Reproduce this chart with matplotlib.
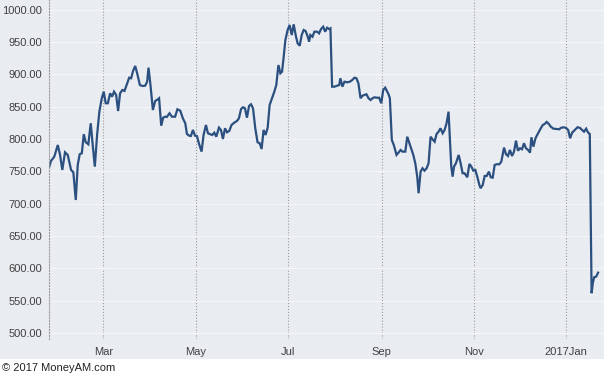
import numpy as np
import pandas as pd
import matplotlib
matplotlib.use("Agg")
import matplotlib.pyplot as plt
import matplotlib.dates as mdates
from matplotlib.patches import Rectangle

plt.rcParams["font.family"] = ["Liberation Sans", "DejaVu Sans"]

# days after 2016-01-25
day_offsets = [
    0, 1.3, 3.5, 5.8, 7.3, 8.8, 10.6, 12.4, 14.6, 16.1, 17.7, 19.0, 20.3, 21.7,
    23.0, 24.3, 26.0, 27.6, 28.9, 30.3, 31.8, 33.3, 34.9, 36.2, 37.5, 38.9,
    40.4, 41.7, 43.0, 44.4, 45.7, 47.0, 48.5, 49.9, 51.5, 53.0, 54.3, 55.6,
    57.0, 58.3, 60.1, 61.8, 63.6, 64.9, 65.8, 67.1, 68.7, 70.2, 72.0, 72.8,
    74.2, 75.5, 76.8, 77.9, 79.7, 81.3, 83.4, 84.9, 86.8, 88.5, 90.1, 91.2,
    92.7, 93.8, 95.2, 96.5, 97.8, 99.1, 100.9, 102.2, 103.8, 105.1, 106.6,
    107.9, 109.3, 110.6, 112.4, 113.7, 115.0, 116.4, 117.7, 119.2, 120.7,
    122.5, 124.3, 125.6, 127.0, 128.3, 129.6, 130.9, 132.3, 133.6, 134.9,
    136.4, 137.9, 139.3, 140.6, 141.9, 143.2, 144.6, 145.9, 147.5, 149.0,
    150.3, 151.7, 153.0, 154.1, 155.2, 156.3, 157.8, 159.1, 160.5, 161.8,
    163.1, 164.4, 165.8, 167.1, 168.4, 169.7, 171.1, 172.0, 172.8, 174.2,
    175.5, 177.3, 178.6, 179.9, 181.3, 182.6, 183.9, 185.2, 186.1, 187.2,
    188.7, 190.5, 191.9, 192.7, 194.0, 195.4, 197.2, 198.9, 200.5, 202.0,
    203.3, 204.6, 206.0, 207.3, 208.6, 209.9, 211.3, 212.6, 213.9, 215.2,
    216.6, 218.3, 219.7, 221.0, 222.3, 223.7, 224.7, 225.4, 226.7, 228.0,
    229.8, 231.1, 232.5, 233.8, 235.6, 236.9, 238.2, 239.5, 240.9, 242.2,
    243.5, 244.4, 245.7, 247.0, 248.3, 249.7, 251.0, 252.3, 253.6, 255.0,
    256.3, 257.6, 258.9, 260.3, 261.6, 262.9, 264.2, 265.1, 266.0, 266.9,
    267.8, 269.1, 270.9, 272.2, 273.5, 274.8, 276.6, 278.0, 279.3, 280.6,
    281.9, 283.2, 284.6, 285.4, 286.8, 288.1, 289.4, 290.9, 292.1, 293.4,
    294.7, 296.0, 297.8, 299.1, 300.9, 302.2, 303.5, 304.8, 306.2, 307.5,
    308.8, 310.1, 311.5, 312.8, 314.1, 315.4, 316.8, 318.1, 319.0, 320.3,
    321.7, 323.4, 325.2, 326.5, 327.8, 329.1, 330.5, 331.8, 333.6, 335.8,
    337.5, 338.4, 340.2, 341.9, 343.3, 344.6, 345.9, 347.7, 349.5, 351.2,
    352.5, 353.8, 355.2, 356.5, 357.6, 358.8, 359.6, 360.5, 361.8, 363.1,
]

prices = [
    755.9, 766.2, 772.8, 790.9, 775.5, 752.3, 779.6, 775.5, 752.3, 748.7,
    705.9, 760.0, 776.6, 778.1, 807.5, 795.1, 792.0, 824.5, 790.9, 757.4,
    806.4, 842.4, 863.1, 873.3, 855.4, 855.4, 870.8, 865.5, 873.3, 868.2,
    843.4, 870.8, 875.9, 874.4, 884.7, 894.9, 894.0, 905.3, 913.0, 901.7,
    883.6, 882.1, 882.5, 888.7, 910.4, 883.6, 845.0, 858.9, 861.5, 863.1,
    820.7, 833.1, 834.6, 834.2, 839.9, 834.6, 834.6, 846.1, 843.9, 832.2,
    824.5, 807.9, 805.3, 804.8, 814.1, 805.3, 804.8, 793.6, 780.6, 806.4,
    821.8, 809.0, 807.5, 806.4, 809.9, 803.7, 817.7, 814.1, 800.2, 816.7,
    810.5, 812.6, 821.8, 825.4, 828.0, 832.2, 846.5, 849.2, 847.6, 833.1,
    851.2, 853.8, 847.6, 816.7, 795.1, 793.6, 784.7, 814.1, 806.4, 817.7,
    852.7, 863.1, 873.3, 883.6, 914.5, 901.7, 904.2, 927.3, 953.1, 968.6,
    976.3, 960.9, 977.4, 960.9, 948.0, 944.3, 960.9, 968.6, 967.0, 958.2,
    950.5, 960.9, 958.2, 966.0, 966.0, 963.5, 970.1, 973.7, 966.0, 972.2,
    970.1, 971.2, 881.0, 881.0, 882.5, 883.6, 894.0, 881.0, 888.7, 887.8,
    888.7, 891.3, 894.9, 894.0, 886.3, 863.1, 867.1, 868.2, 869.3, 863.1,
    860.4, 863.1, 864.6, 864.0, 864.0, 855.4, 875.9, 879.5, 873.3, 868.2,
    863.1, 798.6, 790.9, 775.5, 779.0, 783.2, 780.6, 780.6, 803.7, 794.5,
    785.8, 775.5, 762.7, 741.9, 716.3, 749.7, 754.9, 751.2, 754.9, 762.7,
    803.7, 799.7, 796.0, 807.9, 811.5, 816.7, 809.0, 814.1, 824.5, 842.4,
    798.6, 757.4, 741.9, 757.4, 762.7, 775.5, 762.7, 747.2, 747.2, 741.0,
    761.6, 757.4, 751.2, 752.3, 741.9, 729.1, 724.0, 729.1, 743.0, 743.0,
    749.7, 741.0, 740.4, 760.0, 761.1, 761.1, 765.1, 786.8, 776.6, 773.9,
    783.2, 773.9, 780.6, 797.6, 782.1, 785.8, 784.3, 793.6, 785.8, 783.2,
    779.0, 802.8, 788.3, 801.3, 809.0, 816.7, 821.8, 823.4, 826.5, 823.4,
    819.2, 816.1, 815.6, 815.2, 817.2, 818.3, 817.2, 814.1, 801.3, 809.9,
    814.1, 818.3, 817.2, 814.1, 811.5, 816.1, 809.9, 807.9, 561.8, 577.3,
    586.5, 587.4, 593.6,
]

start = pd.Timestamp("2016-01-25")
dates = start + pd.to_timedelta(day_offsets, unit="D")

y_ticks = [500, 550, 600, 650, 700, 750, 800, 850, 900, 950, 1000]
x_ticks = ["2016-03-01", "2016-05-01", "2016-07-01", "2016-09-01",
           "2016-11-01", "2017-01-01"]
x_labels = ["Mar", "May", "Jul", "Sep", "Nov", "2017Jan"]

bg = "#e9ecf1"
line_col = "#2b5080"
text_col = "#404040"

fig = plt.figure(figsize=(6.04, 3.75), dpi=100)
fig.patch.set_facecolor("white")
fig.patches.append(Rectangle((0, 16 / 375), 1, 1 - 16 / 375,
                             transform=fig.transFigure, facecolor=bg,
                             edgecolor="none", zorder=-1))

ax = fig.add_axes([49 / 604, 36 / 375, 1 - 49 / 604, 1 - 36 / 375])
ax.set_facecolor(bg)

ax.plot(dates, prices, color=line_col, linewidth=1.6, solid_joinstyle="miter")

ax.set_xlim(start, pd.Timestamp("2017-01-26"))
ax.set_ylim(491, 1015)

ax.set_yticks(y_ticks)
ax.set_yticklabels([f"{v:.2f}" for v in y_ticks])
ax.set_xticks(pd.to_datetime(x_ticks))
ax.set_xticklabels(x_labels)

ax.tick_params(axis="both", length=0, labelsize=8, colors=text_col)
ax.tick_params(axis="y", pad=5)
ax.tick_params(axis="x", pad=6)

ax.grid(axis="y", color="#f4f5f8", linewidth=0.8)
ax.grid(axis="x", color="#9a9a9a", linestyle=":", linewidth=0.8)
ax.set_axisbelow(True)

for side in ["top", "right", "bottom"]:
    ax.spines[side].set_visible(False)
ax.spines["left"].set_color("#9a9a9a")
ax.spines["left"].set_linestyle(":")
ax.spines["left"].set_linewidth(0.8)

fig.text(2 / 604, 7 / 375, "\u00a9 2017 MoneyAM.com", fontsize=8,
         color="#222222", va="center", ha="left")

fig.savefig("out.png", dpi=100)
